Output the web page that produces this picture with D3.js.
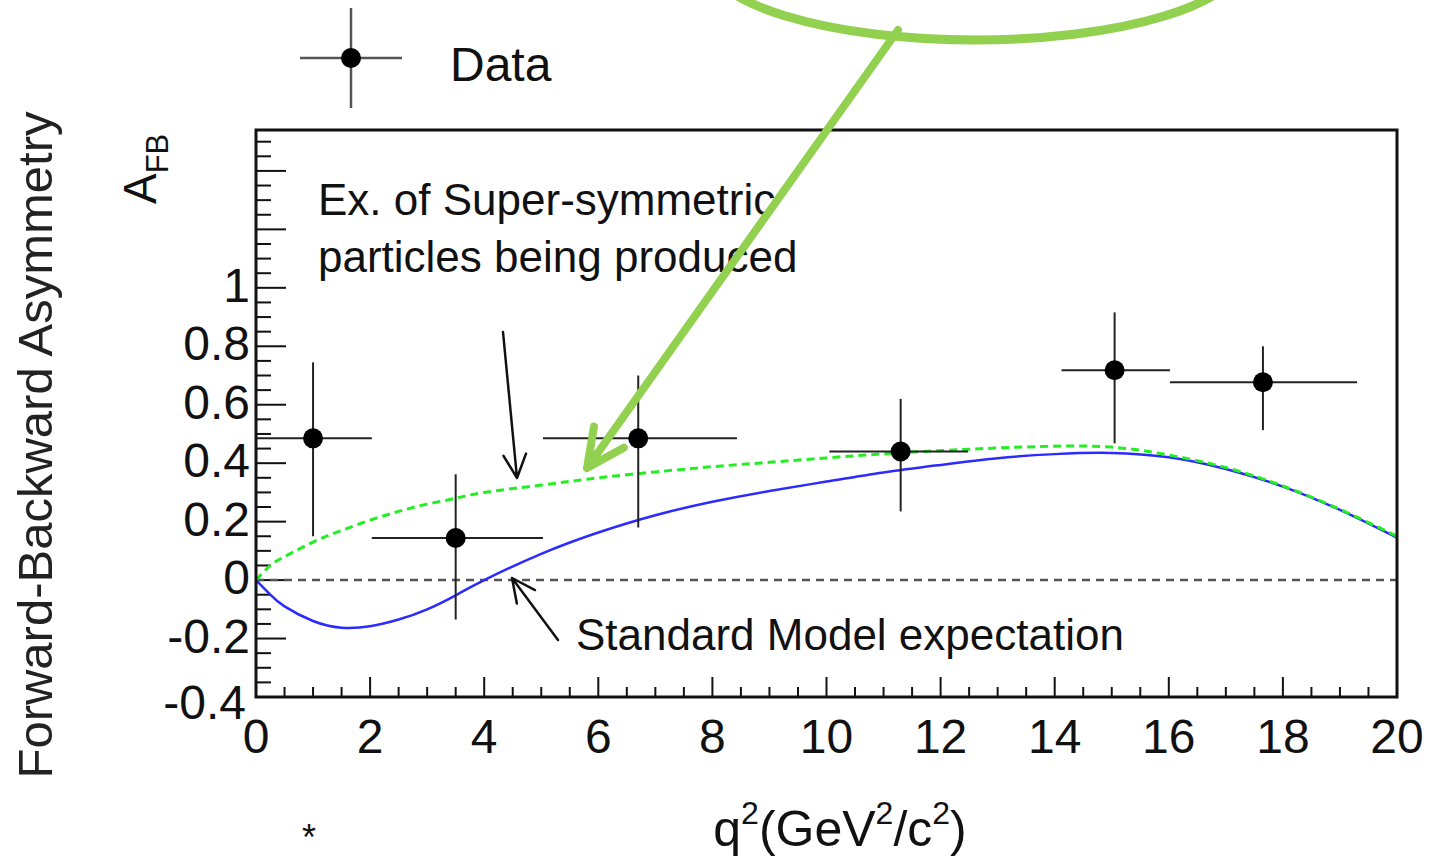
<!DOCTYPE html>
<html>
<head>
<meta charset="utf-8">
<script src="https://cdn.jsdelivr.net/npm/d3@7"></script>
<style>
  body { margin: 0; background: #fff; }
  svg { display: block; font-family: "Liberation Sans", Arial, sans-serif; }
</style>
</head>
<body>
<div id="chart"></div>
<script>
// measured points (bins in q^2)
const q2Center = [1.0, 3.5, 6.7, 11.3, 15.05, 17.65];
const q2Low = [0, 2.03, 5.03, 10.05, 14.12, 16.02];
const q2High = [2.03, 5.03, 8.43, 12.48, 16.02, 19.3];
const afb = [0.485, 0.144, 0.485, 0.44, 0.718, 0.677];
const afbLow = [0.15, -0.135, 0.18, 0.235, 0.468, 0.513];
const afbHigh = [0.745, 0.362, 0.70, 0.62, 0.916, 0.80];

// model curves
const curveQ2 = [0, 0.25, 0.5, 1, 1.5, 2, 2.5, 3, 3.5, 4, 5, 6, 7, 8, 9, 10, 11, 12, 13, 14, 15, 16, 17, 18, 19, 20];
const smAfb = [0, -0.05, -0.09, -0.14, -0.163, -0.158, -0.135, -0.1, -0.052, 0.0, 0.09, 0.163, 0.222, 0.268, 0.305, 0.337, 0.368, 0.394, 0.417, 0.431, 0.435, 0.42, 0.38, 0.32, 0.24, 0.145];
const susyAfb = [0, 0.05, 0.08, 0.13, 0.17, 0.205, 0.235, 0.26, 0.28, 0.3, 0.325, 0.35, 0.37, 0.388, 0.403, 0.418, 0.432, 0.443, 0.452, 0.458, 0.455, 0.428, 0.385, 0.322, 0.242, 0.15];

const xTicks = [0, 2, 4, 6, 8, 10, 12, 14, 16, 18, 20];
const yTicks = [-0.4, -0.2, 0, 0.2, 0.4, 0.6, 0.8, 1];

const width = 1430, height = 859;
const svg = d3.select("#chart").append("svg")
  .attr("width", width).attr("height", height);

const x = d3.scaleLinear().domain([0, 20]).range([256, 1397]);
const y = d3.scaleLinear().domain([-0.4, 1.54]).range([697, 130]);

// ticks
svg.append("g")
  .selectAll("line")
  .data(d3.range(0, 20.01, 0.5))
  .join("line")
  .attr("x1", d => x(d)).attr("x2", d => x(d))
  .attr("y1", y(-0.4)).attr("y2", d => y(-0.4) - (d % 2 === 0 ? 20 : 10))
  .attr("stroke", "#111").attr("stroke-width", 2);

svg.append("g")
  .selectAll("line")
  .data(d3.range(-0.4, 1.52, 0.05).map(v => Math.round(v * 100) / 100))
  .join("line")
  .attr("x1", x(0)).attr("x2", d => x(0) + (Math.round(d * 100) % 20 === 0 ? 30 : 15))
  .attr("y1", d => y(d)).attr("y2", d => y(d))
  .attr("stroke", "#111").attr("stroke-width", 2);

// tick labels
svg.append("g")
  .selectAll("text")
  .data(xTicks)
  .join("text")
  .attr("x", d => x(d)).attr("y", 753)
  .attr("text-anchor", "middle")
  .attr("font-size", 48)
  .attr("fill", "#111")
  .text(d => d);

svg.append("g")
  .selectAll("text")
  .data(yTicks)
  .join("text")
  .attr("x", d => d === -0.4 ? 246 : 250).attr("y", d => y(d) + (d === -0.4 ? 22 : 14))
  .attr("text-anchor", "end")
  .attr("font-size", 48)
  .attr("fill", "#111")
  .text(d => d);

// zero line
svg.append("line")
  .attr("x1", x(0)).attr("x2", x(20))
  .attr("y1", y(0)).attr("y2", y(0))
  .attr("stroke", "#555").attr("stroke-width", 2.5)
  .attr("stroke-dasharray", "8,6");

const line = d3.line()
  .x((d, i) => x(curveQ2[i]))
  .y(d => y(d))
  .curve(d3.curveNatural);

svg.append("path")
  .attr("d", line(smAfb))
  .attr("fill", "none")
  .attr("stroke", "#2b2bff")
  .attr("stroke-width", 2.5);

svg.append("path")
  .attr("d", line(susyAfb))
  .attr("fill", "none")
  .attr("stroke", "#22ee22")
  .attr("stroke-width", 3)
  .attr("stroke-dasharray", "8,5");

// data points
const pts = svg.append("g");
q2Center.forEach((c, i) => {
  pts.append("line")
    .attr("x1", x(q2Low[i])).attr("x2", x(q2High[i]))
    .attr("y1", y(afb[i])).attr("y2", y(afb[i]))
    .attr("stroke", "#222").attr("stroke-width", 2);
  pts.append("line")
    .attr("x1", x(c)).attr("x2", x(c))
    .attr("y1", y(afbLow[i])).attr("y2", y(afbHigh[i]))
    .attr("stroke", "#222").attr("stroke-width", 2);
  pts.append("circle")
    .attr("cx", x(c)).attr("cy", y(afb[i]))
    .attr("r", 10).attr("fill", "#000");
});

// frame
svg.append("rect")
  .attr("x", x(0)).attr("y", y(1.54))
  .attr("width", x(20) - x(0)).attr("height", y(-0.4) - y(1.54))
  .attr("fill", "none").attr("stroke", "#111").attr("stroke-width", 3);

// axis titles
svg.append("text")
  .attr("transform", "translate(52,445) rotate(-90)")
  .attr("text-anchor", "middle")
  .attr("font-size", 49)
  .attr("fill", "#222")
  .text("Forward-Backward Asymmetry");

const afbLabel = svg.append("text")
  .attr("transform", "translate(156,204) rotate(-90)")
  .attr("font-size", 46)
  .attr("fill", "#111");
afbLabel.append("tspan").text("A");
afbLabel.append("tspan").attr("font-size", 31).attr("dy", 12).text("FB");

const xTitle = svg.append("text")
  .attr("x", 840).attr("y", 846)
  .attr("text-anchor", "middle")
  .attr("font-size", 50)
  .attr("fill", "#111");
xTitle.append("tspan").text("q");
xTitle.append("tspan").attr("font-size", 32).attr("dy", -22).text("2");
xTitle.append("tspan").attr("dy", 22).text("(GeV");
xTitle.append("tspan").attr("font-size", 32).attr("dy", -22).text("2");
xTitle.append("tspan").attr("dy", 22).text("/c");
xTitle.append("tspan").attr("font-size", 32).attr("dy", -22).text("2");
xTitle.append("tspan").attr("dy", 22).text(")");

// annotations
svg.append("text")
  .attr("x", 318).attr("y", 215)
  .attr("font-size", 44).attr("fill", "#111")
  .text("Ex. of Super-symmetric");
svg.append("text")
  .attr("x", 318).attr("y", 272)
  .attr("font-size", 44).attr("fill", "#111")
  .text("particles being produced");
svg.append("text")
  .attr("x", 576).attr("y", 650)
  .attr("font-size", 44).attr("fill", "#111")
  .text("Standard Model expectation");

function arrow(g, x1, y1, x2, y2, head, color, w) {
  const a = Math.atan2(y2 - y1, x2 - x1);
  const s = 0.45;
  g.append("path")
    .attr("d", `M${x1},${y1}L${x2},${y2}` +
      `M${x2 - head * Math.cos(a - s)},${y2 - head * Math.sin(a - s)}L${x2},${y2}` +
      `L${x2 - head * Math.cos(a + s)},${y2 - head * Math.sin(a + s)}`)
    .attr("fill", "none")
    .attr("stroke", color).attr("stroke-width", w)
    .attr("stroke-linecap", "round").attr("stroke-linejoin", "round");
}
const ann = svg.append("g");
arrow(ann, 503, 332, 517, 478, 26, "#111", 2.5);
arrow(ann, 558, 640, 512, 578, 26, "#111", 2.5);

// legend
svg.append("line").attr("x1", 300).attr("x2", 402).attr("y1", 58).attr("y2", 58)
  .attr("stroke", "#555").attr("stroke-width", 2.5);
svg.append("line").attr("x1", 351).attr("x2", 351).attr("y1", 8).attr("y2", 108)
  .attr("stroke", "#555").attr("stroke-width", 2.5);
svg.append("circle").attr("cx", 351).attr("cy", 58).attr("r", 10).attr("fill", "#000");
svg.append("text").attr("x", 450).attr("y", 81)
  .attr("font-size", 48).attr("fill", "#111").text("Data");

// green callout
svg.append("ellipse")
  .attr("cx", 975).attr("cy", -42).attr("rx", 268).attr("ry", 82)
  .attr("fill", "none").attr("stroke", "#92d050").attr("stroke-width", 9);
arrow(ann, 898, 30, 587, 468, 42, "#92d050", 8);

svg.append("text").attr("x", 302).attr("y", 850)
  .attr("font-size", 36).attr("fill", "#111").text("*");
</script>
</body>
</html>
